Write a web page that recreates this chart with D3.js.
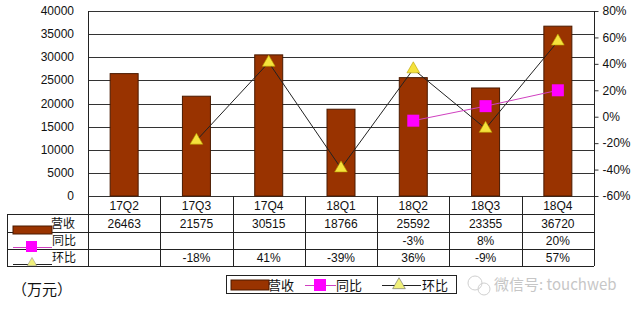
<!DOCTYPE html>
<html>
<head>
<meta charset="utf-8">
<style>
  body { margin: 0; background: #fff; }
  svg { display: block; }
  text { font-family: "Liberation Sans", "Noto Sans CJK SC", sans-serif; font-size: 12px; fill: #111; }
  .cjk { font-family: "Noto Sans CJK SC", sans-serif; }
</style>
</head>
<body>
<script src="https://d3js.org/d3.v7.min.js"></script>
<script>
const quarters = ["17Q2", "17Q3", "17Q4", "18Q1", "18Q2", "18Q3", "18Q4"];
const revenue = [26463, 21575, 30515, 18766, 25592, 23355, 36720];
const yoy = [null, null, null, null, -3, 8, 20];
const qoq = [null, -18, 41, -39, 36, -9, 57];
const leftTicks = [0, 5000, 10000, 15000, 20000, 25000, 30000, 35000, 40000];
const rightTicks = [-60, -40, -20, 0, 20, 40, 60, 80];

const W = 640, H = 310;
const L = 88, R = 594, T = 11, B = 196;
const rowH = [196, 214, 232, 249, 266];

const svg = d3.select("body").append("svg").attr("width", W).attr("height", H);

const x = d3.scaleBand().domain(quarters).range([L, R]).paddingInner(0).paddingOuter(0);
const yL = d3.scaleLinear().domain([0, 40000]).range([B, T]);
const yR = d3.scaleLinear().domain([-60, 80]).range([B, T]);

// gridlines
svg.append("g").selectAll("line").data(leftTicks).join("line")
  .attr("x1", L).attr("x2", R)
  .attr("y1", d => Math.round(yL(d)) + 0.5).attr("y2", d => Math.round(yL(d)) + 0.5)
  .attr("stroke", "#333").attr("stroke-width", 1);

// left axis labels
svg.append("g").selectAll("text").data(leftTicks).join("text")
  .attr("x", 74).attr("y", d => yL(d) + 4)
  .attr("text-anchor", "end").text(d => d);

// right axis
const rAxis = d3.axisRight(yR).tickValues(rightTicks).tickSize(4).tickFormat(d => d + "%");
const rg = svg.append("g").attr("transform", `translate(${R + 0.5},0)`).call(rAxis);
rg.select(".domain").attr("stroke", "#333").attr("d", `M0,${T}V${B}`);
rg.selectAll(".tick line").attr("stroke", "#333");
rg.selectAll(".tick text").attr("x", 8)
  .style("font-family", "Liberation Sans, sans-serif").style("font-size", "12px").attr("fill", "#111");

// bars
const bw = 28;
svg.append("g").selectAll("rect").data(revenue).join("rect")
  .attr("x", (d, i) => x(quarters[i]) + x.bandwidth() / 2 - bw / 2)
  .attr("y", d => yL(d))
  .attr("width", bw)
  .attr("height", d => B - yL(d))
  .attr("fill", "#993300").attr("stroke", "#4a1a00").attr("stroke-width", 1);

// left axis line
svg.append("line").attr("x1", L + 0.5).attr("x2", L + 0.5).attr("y1", T).attr("y2", rowH[4])
  .attr("stroke", "#222");

const cx = i => x(quarters[i]) + x.bandwidth() / 2;

// qoq line
const qoqPts = qoq.map((v, i) => ({ v, i })).filter(d => d.v !== null);
svg.append("path").datum(qoqPts)
  .attr("d", d3.line().x(d => cx(d.i)).y(d => yR(d.v)))
  .attr("fill", "none").attr("stroke", "#222").attr("stroke-width", 1);

// yoy line
const yoyPts = yoy.map((v, i) => ({ v, i })).filter(d => d.v !== null);
svg.append("path").datum(yoyPts)
  .attr("d", d3.line().x(d => cx(d.i)).y(d => yR(d.v)))
  .attr("fill", "none").attr("stroke", "#d040c0").attr("stroke-width", 1);

const tri = d3.symbol().type(d3.symbolTriangle).size(70);
svg.append("g").selectAll("path").data(qoqPts).join("path")
  .attr("d", tri)
  .attr("transform", d => `translate(${cx(d.i)},${yR(d.v)})`)
  .attr("fill", "#f5e23c").attr("stroke", "#b8a000").attr("stroke-width", 0.6);

svg.append("g").selectAll("rect").data(yoyPts).join("rect")
  .attr("x", d => cx(d.i) - 6).attr("y", d => yR(d.v) - 6)
  .attr("width", 12).attr("height", 12)
  .attr("fill", "#ff00ff");

// data table
const tg = svg.append("g");
const hline = (y, x1, x2) => tg.append("line").attr("x1", x1).attr("x2", x2)
  .attr("y1", y + 0.5).attr("y2", y + 0.5).attr("stroke", "#222");
hline(rowH[1], 7, R);
hline(rowH[2], 7, R);
hline(rowH[3], 7, R);
hline(rowH[4], 7, R);
tg.append("line").attr("x1", 7.5).attr("x2", 7.5).attr("y1", rowH[1]).attr("y2", rowH[4]).attr("stroke", "#222");
quarters.forEach((q, i) => {
  const xr = Math.round(x(q) + x.bandwidth()) + 0.5;
  tg.append("line").attr("x1", xr).attr("x2", xr)
    .attr("y1", i === quarters.length - 1 ? T : B).attr("y2", rowH[4]).attr("stroke", "#222");
});

tg.selectAll("text.q").data(quarters).join("text").attr("class", "q")
  .attr("x", (d, i) => cx(i)).attr("y", 210).attr("text-anchor", "middle").text(d => d);
tg.selectAll("text.rev").data(revenue).join("text").attr("class", "rev")
  .attr("x", (d, i) => cx(i)).attr("y", 228).attr("text-anchor", "middle").text(d => d);
tg.selectAll("text.yoy").data(yoyPts).join("text").attr("class", "yoy")
  .attr("x", d => cx(d.i)).attr("y", 245).attr("text-anchor", "middle").text(d => d.v + "%");
tg.selectAll("text.qoq").data(qoqPts).join("text").attr("class", "qoq")
  .attr("x", d => cx(d.i)).attr("y", 262).attr("text-anchor", "middle").text(d => d.v + "%");

// row legend keys
tg.append("rect").attr("x", 13).attr("y", 226).attr("width", 39).attr("height", 8).attr("fill", "#993300").attr("stroke", "#4a1a00");
tg.append("text").attr("class", "cjk").attr("x", 51).attr("y", 228).text("营收");
tg.append("line").attr("x1", 13).attr("x2", 52).attr("y1", 247.5).attr("y2", 247.5).attr("stroke", "#d040c0");
tg.append("rect").attr("x", 26).attr("y", 241).attr("width", 11).attr("height", 11).attr("fill", "#ff00ff");
tg.append("text").attr("class", "cjk").attr("x", 52).attr("y", 245).text("同比");
tg.append("line").attr("x1", 13).attr("x2", 52).attr("y1", 264.5).attr("y2", 264.5).attr("stroke", "#222");
tg.append("path").attr("d", d3.symbol().type(d3.symbolTriangle).size(40))
  .attr("transform", "translate(32,263)").attr("fill", "#f0f07a").attr("stroke", "#888").attr("stroke-width", 0.5);
tg.append("text").attr("class", "cjk").attr("x", 52).attr("y", 262).text("环比");

// unit label
svg.append("text").attr("class", "cjk").attr("x", 12).attr("y", 295).style("font-size", "15px").text("（万元）");

// bottom legend
const lg = svg.append("g");
lg.append("rect").attr("x", 226.5).attr("y", 275.5).attr("width", 230).attr("height", 18)
  .attr("fill", "#fff").attr("stroke", "#222");
lg.append("rect").attr("x", 231).attr("y", 280).attr("width", 38).attr("height", 10).attr("fill", "#993300").attr("stroke", "#4a1a00");
lg.append("text").attr("class", "cjk").attr("x", 268).attr("y", 290).style("font-size", "13px").text("营收");
lg.append("line").attr("x1", 305).attr("x2", 336).attr("y1", 285.5).attr("y2", 285.5).attr("stroke", "#d040c0");
lg.append("rect").attr("x", 314).attr("y", 279).attr("width", 12).attr("height", 12).attr("fill", "#ff00ff");
lg.append("text").attr("class", "cjk").attr("x", 336).attr("y", 290).style("font-size", "13px").text("同比");
lg.append("line").attr("x1", 382).attr("x2", 421).attr("y1", 285.5).attr("y2", 285.5).attr("stroke", "#222");
lg.append("path").attr("d", d3.symbol().type(d3.symbolTriangle).size(70))
  .attr("transform", "translate(399,285)").attr("fill", "#f0f07a").attr("stroke", "#666").attr("stroke-width", 0.6);
lg.append("text").attr("class", "cjk").attr("x", 422).attr("y", 290).style("font-size", "13px").text("环比");

// watermark
const wm = svg.append("g").attr("opacity", 0.55);
wm.append("circle").attr("cx", 475).attr("cy", 283).attr("r", 7).attr("fill", "none").attr("stroke", "#aaa");
wm.append("circle").attr("cx", 484).attr("cy", 289).attr("r", 6).attr("fill", "none").attr("stroke", "#aaa");
wm.append("text").attr("class", "cjk").attr("x", 494).attr("y", 290)
  .style("font-size", "15px").style("fill", "#999").text("微信号: touchweb");
</script>
</body>
</html>
